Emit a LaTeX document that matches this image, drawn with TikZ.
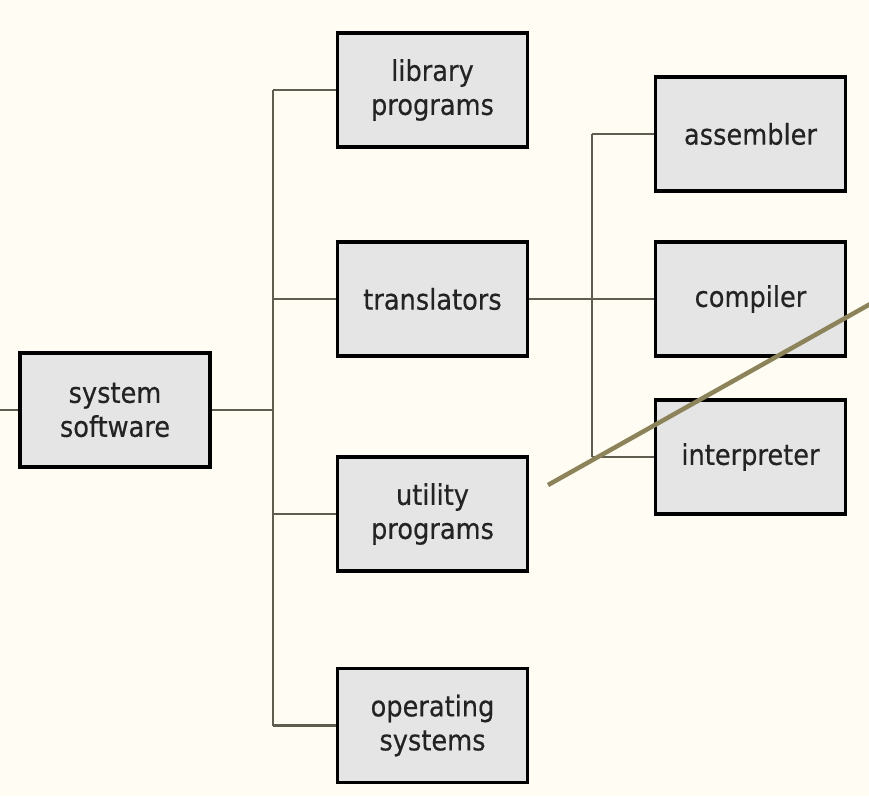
\documentclass[tikz,border=0pt]{standalone}
\usepackage{fontspec}
\setmainfont{DejaVu Sans}[FakeStretch=0.9,FakeBold=0.4]
\definecolor{bg}{RGB}{255,253,243}
\definecolor{boxfill}{RGB}{229,229,229}
\definecolor{wire}{RGB}{95,92,80}
\definecolor{olive}{RGB}{140,131,90}
\definecolor{txt}{RGB}{35,35,35}
\tikzset{
  boxnode/.style={draw=black, line width=3.6pt, fill=boxfill, minimum width=190pt, minimum height=114pt, inner sep=0pt, align=center, text=txt, font=\fontsize{28.5}{34}\selectfont},
  wireline/.style={draw=wire, line width=2.2pt}
}
\begin{document}
\begin{tikzpicture}[x=1pt,y=-1pt]
\fill[bg] (0,0) rectangle (869,796);
\useasboundingbox (0,0) rectangle (869,796);
\node[boxnode] (sys) at (115,410) {system\\software};
\node[boxnode] (lib) at (432.5,90) {library\\programs};
\node[boxnode] (tra) at (432.5,299) {translators};
\node[boxnode] (uti) at (432.5,514) {utility\\programs};
\node[boxnode] (ops) at (432.5,725.5) {operating\\systems};
\node[boxnode] (asm) at (750.5,134) {assembler};
\node[boxnode] (com) at (750.5,299) {compiler};
\node[boxnode] (int) at (750.5,457) {interpreter};
\coordinate (stub) at (0,410);
\coordinate (trunk) at (273,410);
\coordinate (jtop) at (273,90);
\coordinate (jtra) at (273,299);
\coordinate (juti) at (273,514);
\coordinate (jbot) at (273,725.5);
\coordinate (btop) at (592,134);
\coordinate (bbot) at (592,457);
\coordinate (oa) at (548,485);
\coordinate (ob) at (872,303);
\draw[wireline] (stub) -- (sys.west);
\draw[wireline] (sys.east) -- (trunk);
\draw[wireline] (jtop) -- (jbot);
\draw[wireline] (jtop) -- (lib.west);
\draw[wireline] (jtra) -- (tra.west);
\draw[wireline] (juti) -- (uti.west);
\draw[wireline] (jbot) -- (ops.west);
\draw[wireline] (tra.east) -- (com.west);
\draw[wireline] (btop) -- (bbot);
\draw[wireline] (btop) -- (asm.west);
\draw[wireline] (bbot) -- (int.west);
\draw[olive, line width=4.5pt] (oa) -- (ob);
\end{tikzpicture}
\end{document}
